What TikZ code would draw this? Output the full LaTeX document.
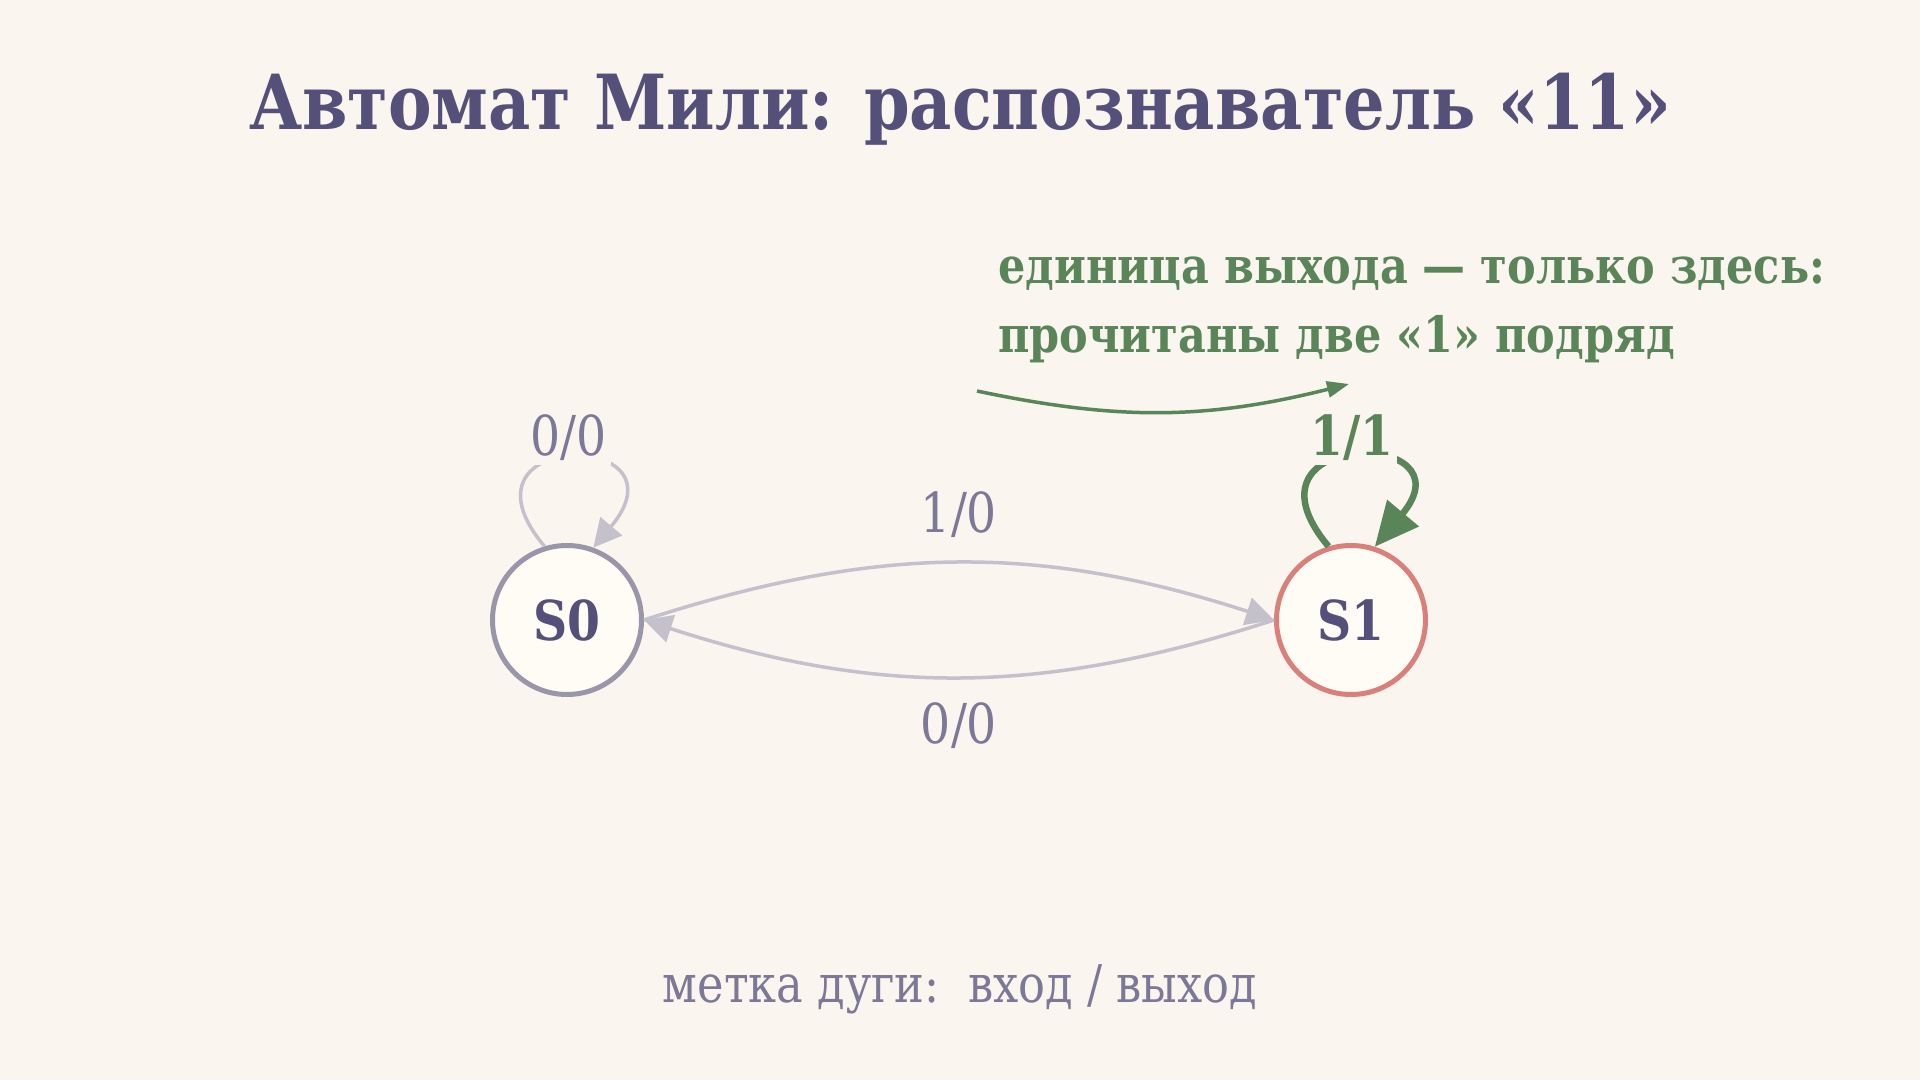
\documentclass[tikz,border=0pt]{standalone}
\usepackage{fontspec}
\setmainfont{DejaVu Serif}[FakeStretch=0.86]
\usetikzlibrary{positioning,arrows.meta}
\definecolor{bgc}{HTML}{FAF5EE}
\definecolor{ink}{HTML}{55507A}
\definecolor{lblc}{HTML}{7D7898}
\definecolor{edgec}{HTML}{C4C1CC}
\definecolor{szero}{HTML}{9A96AA}
\definecolor{sone}{HTML}{D9807A}
\definecolor{nodefill}{HTML}{FFFBF5}
\definecolor{okgreen}{HTML}{5A8559}

\begin{document}
\begin{tikzpicture}[x=1pt,y=1pt,
    state/.style={circle,fill=nodefill,line width=5pt,minimum size=149pt,inner sep=0pt,
        text=ink,font=\fontsize{55}{60}\selectfont\bfseries},
    edge/.style={draw=edgec,line width=3.5pt,-{Triangle[length=28pt,width=28pt]}},
    hotedge/.style={draw=okgreen,line width=6.5pt,-{Triangle[length=44pt,width=40pt]}},
    lbl/.style={fill=bgc,inner sep=4pt,text=lblc,font=\fontsize{55}{60}\selectfont},
    hotlbl/.style={lbl,text=okgreen,font=\fontsize{55}{60}\selectfont\bfseries},
    note/.style={text=okgreen,inner sep=0pt,font=\fontsize{50}{56}\selectfont\bfseries}]
\useasboundingbox[fill=bgc] (0,0) rectangle (1920,1080);

% title
\node[anchor=base,text=ink,font=\fontsize{76}{84}\selectfont\bfseries] (title) at (960,950)
    {Автомат Мили: распознаватель «11»};

% states
\node[state,draw=szero] (s0) at (567,460) {S0};
\node[state,draw=sone]  (s1) at (1351,460) {S1};

% transitions between states
\draw[edge] (s0.east) to[bend left=18]
    node[lbl,above=20pt] (l10) {1/0} (s1.west);
\draw[edge] (s1.west) to[bend left=18]
    node[lbl,below=20pt] (l00b) {0/0} (s0.east);

% self loops
\draw[edge] (s0.107) .. controls +(130:155) and +(50:155) .. (s0.70)
    node[lbl,pos=0.5,anchor=base,yshift=2pt] (l00a) {0/0};
\draw[hotedge] (s1.107) .. controls +(130:155) and +(50:155) .. (s1.72)
    node[hotlbl,pos=0.5,anchor=base,yshift=2pt] (l11) {1/1};

% note
\node[note,anchor=base west] (note1) at (998,796) {единица выхода — только здесь:};
\node[note,anchor=base west] (note2) at (998,727) {прочитаны две «1» подряд};
\coordinate (notefrom) at (977,689);
\coordinate (noteto) at (1349,696);
\draw[okgreen,line width=3.5pt,-{Triangle[length=22pt,width=16pt]}]
    (notefrom) to[bend right=13] (noteto);

% legend
\node[anchor=base,text=lblc,font=\fontsize{52}{56}\selectfont] (legend) at (960,78)
    {метка дуги:~~вход / выход};
\end{tikzpicture}
\end{document}
